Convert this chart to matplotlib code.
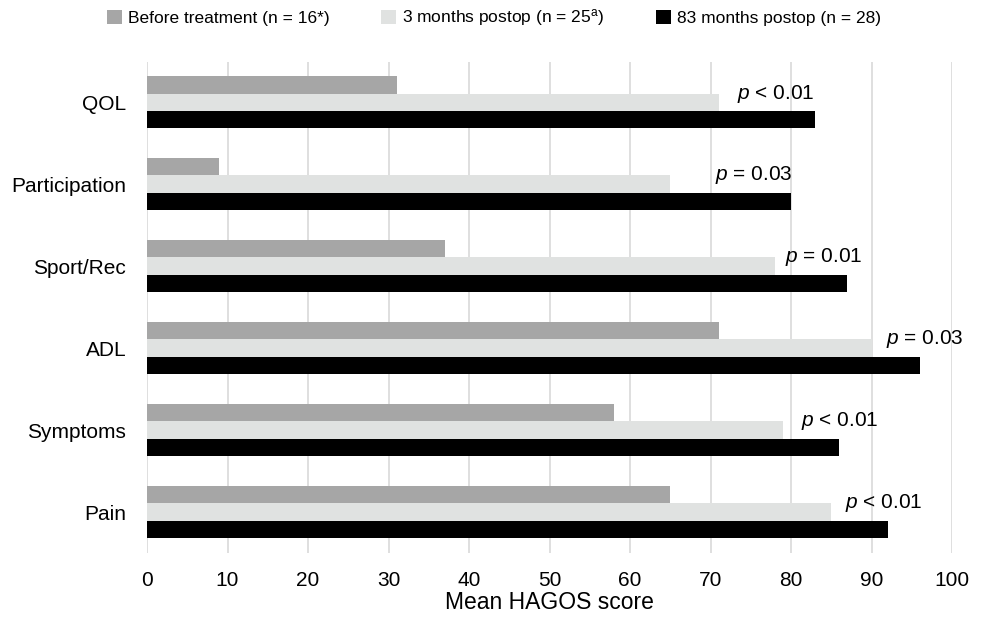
import numpy as np
import matplotlib
matplotlib.use("Agg")
import matplotlib.pyplot as plt
from matplotlib.patches import Patch

plt.rcParams['font.family'] = ['Liberation Sans', 'DejaVu Sans']
plt.rcParams['mathtext.fontset'] = 'custom'
plt.rcParams['mathtext.rm'] = 'Liberation Sans'
plt.rcParams['mathtext.it'] = 'Liberation Sans:italic'

# --- data (bottom to top) ---
categories = ['Pain', 'Symptoms', 'ADL', 'Sport/Rec', 'Participation', 'QOL']
before = [65, 58, 71, 37, 9, 31]
postop_3m = [85, 79, 90, 78, 65, 71]
postop_83m = [92, 86, 96, 87, 80, 83]
p_labels = ['< 0.01', '< 0.01', '= 0.03', '= 0.01', '= 0.03', '< 0.01']
p_label_x = [86.7, 81.2, 91.8, 79.3, 70.6, 73.3]

series_names = ['Before treatment (n = 16*)',
                '3 months postop (n = 25$^{\\mathrm{a}}$)',
                '83 months postop (n = 28)']
colors = ['#a6a6a6', '#e0e2e1', '#000000']

fig = plt.figure(figsize=(9.84, 6.18), dpi=100)
ax = fig.add_axes([147 / 984, 1 - 553 / 618, (952 - 147) / 984, (553 - 62) / 618])

y = np.arange(len(categories))
h = 0.211
for i, vals in enumerate([before, postop_3m, postop_83m]):
    ax.barh(y + (1 - i) * h, vals, height=h, color=colors[i], zorder=2)

for yi, txt, xp in zip(y, p_labels, p_label_x):
    ax.text(xp, yi + h * 0.5, '$p$ ' + txt, fontsize=15, ha='left', va='center', zorder=3)

ax.set_xlim(0, 100)
ax.set_ylim(-0.5, len(categories) - 0.51)
ax.set_xticks(np.arange(0, 101, 10))
ax.set_yticks(y)
ax.set_yticklabels(categories)
ax.tick_params(axis='both', length=0, labelsize=15)
ax.tick_params(axis='x', pad=13)
ax.tick_params(axis='y', pad=15)
ax.grid(axis='x', color='#d9d9d9', linewidth=1.2, zorder=0)
ax.set_axisbelow(True)
for s in ax.spines.values():
    s.set_visible(False)
ax.set_xlabel('Mean HAGOS score', fontsize=16.5, labelpad=1)

handles = [Patch(facecolor=c, edgecolor='none') for c in colors]
fig.legend(handles, series_names, loc='center', bbox_to_anchor=(494 / 984, 1 - 18 / 618),
           ncol=3, frameon=False, fontsize=12.5, handlelength=0.85, handleheight=0.85,
           handletextpad=0.35, columnspacing=3.0)

fig.savefig('out.png', dpi=100)
